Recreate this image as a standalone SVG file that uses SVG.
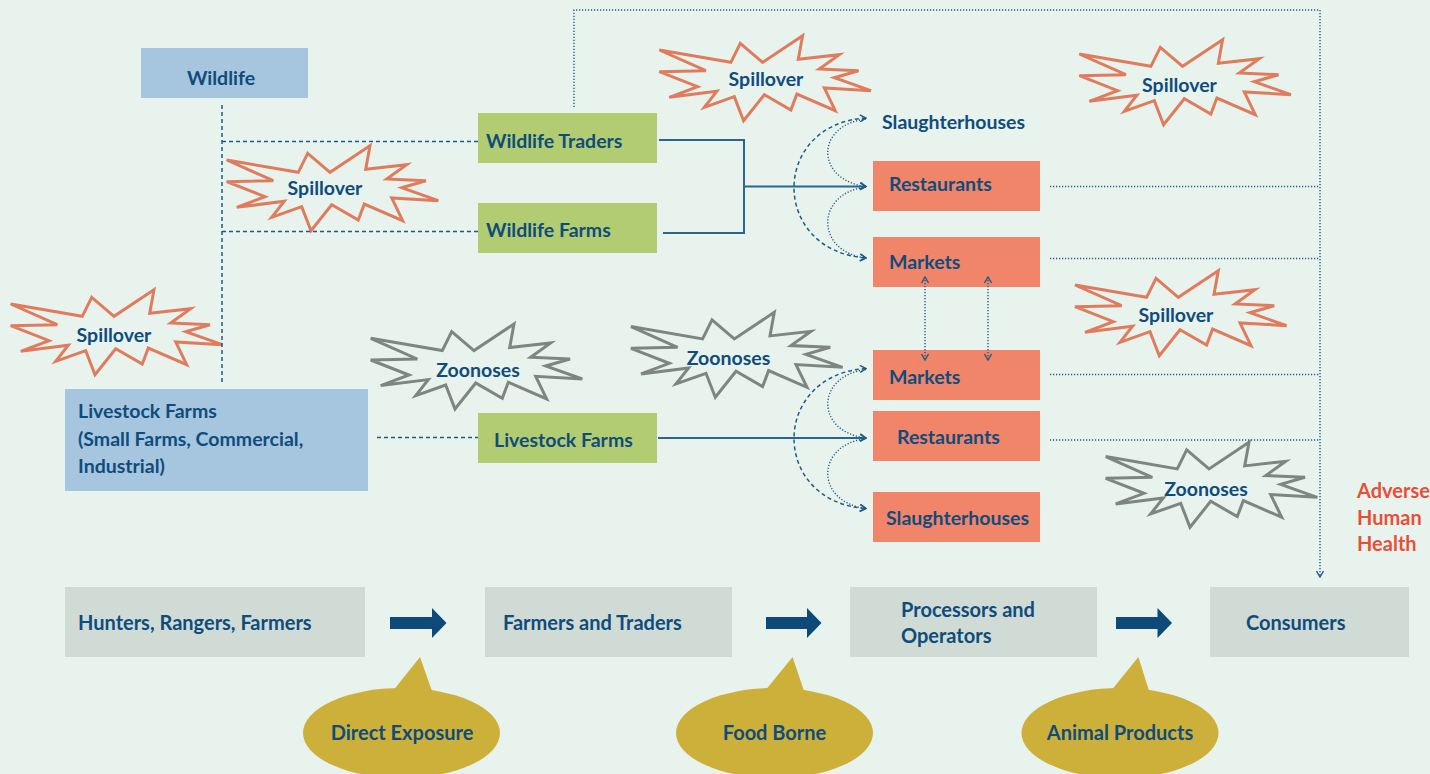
<svg xmlns="http://www.w3.org/2000/svg" xmlns:xlink="http://www.w3.org/1999/xlink" width="1430" height="774" viewBox="0 0 1430 774">
<style>
  .t{font-family:Lato,"Open Sans","Liberation Sans",sans-serif;font-weight:bold;font-size:19.5px;fill:#0f4c7c}
  .tb{font-family:Lato,"Open Sans","Liberation Sans",sans-serif;font-weight:bold;font-size:20px;fill:#0f4c7c}
  .red{font-family:Lato,"Open Sans","Liberation Sans",sans-serif;font-weight:bold;font-size:20px;fill:#e84f38}
  .mid{text-anchor:middle}
  .blue{fill:#a6c6df}
  .green{fill:#b1cc71}
  .salmon{fill:#f0856a}
  .gray{fill:#d0dbd6}
  .gold{fill:#cdb03a}
  .spill{fill:#e8f3ee;stroke:#e07c5e;stroke-width:3;stroke-linejoin:miter}
  .zoo{fill:#e8f3ee;stroke:#7f8580;stroke-width:3;stroke-linejoin:miter}
  .dash{fill:none;stroke:#1f5a87;stroke-width:1.5;stroke-dasharray:4 3}
  .dot{fill:none;stroke:#1f5a87;stroke-width:1.4;stroke-dasharray:1.2 1.8}
  .solid{fill:none;stroke:#2a6590;stroke-width:2}
  .bigarrow{fill:#0d4a7a}
</style>
<defs>
  <path id="star" d="M0,14.3 L71.6,26.6 L81,7.6 L103.3,26.6 L143.3,0 L139,23.6 L180,19 L160,33.3 L199.3,35 L175,42 L211.6,55 L165,52.3 L176,75 L137.6,58.3 L131.6,74.3 L105,59 L84.3,85 L75,61 L45,71.6 L57.6,55.6 L10,61.6 L38.3,51 L0,36 L46.6,35 Z"/>
  <marker id="ah" viewBox="0 0 8 8" refX="7" refY="4" markerWidth="8" markerHeight="8" markerUnits="userSpaceOnUse" orient="auto-start-reverse">
    <path d="M1,0.5 L7,4 L1,7.5" fill="none" stroke="#1f5a87" stroke-width="1.4"/>
  </marker>
</defs>
<rect x="0" y="0" width="1430" height="774" fill="#e8f3ee"/>

<g id="wildlife">
  <rect class="blue" x="141" y="48" width="167" height="50"/>
  <text class="t mid" x="221" y="85">Wildlife</text>
</g>
<g id="wildlife-traders">
  <rect class="green" x="478" y="113" width="179" height="50"/>
  <text class="t" x="486" y="148">Wildlife Traders</text>
</g>
<g id="wildlife-farms">
  <rect class="green" x="478" y="203" width="179" height="50"/>
  <text class="t" x="486" y="237">Wildlife Farms</text>
</g>
<g id="livestock-farms-big">
  <rect class="blue" x="65" y="389" width="303" height="102"/>
  <text class="t" x="78" y="418">Livestock Farms</text>
  <text class="t" x="78" y="445.5">(Small Farms, Commercial,</text>
  <text class="t" x="78" y="472.5">Industrial)</text>
</g>
<g id="livestock-farms">
  <rect class="green" x="478" y="413" width="179" height="50"/>
  <text class="t" x="494" y="447">Livestock Farms</text>
</g>

<g id="slaughterhouses-top">
  <text class="t" x="882" y="129">Slaughterhouses</text>
</g>
<g id="restaurants-top">
  <rect class="salmon" x="873" y="161" width="167" height="50"/>
  <text class="t" x="889" y="191">Restaurants</text>
</g>
<g id="markets-top">
  <rect class="salmon" x="873" y="237" width="167" height="50"/>
  <text class="t" x="889" y="269">Markets</text>
</g>
<g id="markets-bottom">
  <rect class="salmon" x="873" y="350" width="167" height="50"/>
  <text class="t" x="889" y="384">Markets</text>
</g>
<g id="restaurants-bottom">
  <rect class="salmon" x="873" y="411" width="167" height="50"/>
  <text class="t" x="897" y="444">Restaurants</text>
</g>
<g id="slaughterhouses-bottom">
  <rect class="salmon" x="873" y="492" width="167" height="50"/>
  <text class="t" x="886" y="525">Slaughterhouses</text>
</g>

<g id="spillover-1">
  <use xlink:href="#star" href="#star" class="spill" transform="translate(226.7,145.7)"/>
  <text class="t mid" x="325" y="195">Spillover</text>
</g>
<g id="spillover-2">
  <use xlink:href="#star" href="#star" class="spill" transform="translate(659.3,35.7)"/>
  <text class="t mid" x="766" y="86">Spillover</text>
</g>
<g id="spillover-3">
  <use xlink:href="#star" href="#star" class="spill" transform="translate(1079.3,39.7)"/>
  <text class="t mid" x="1179.5" y="92">Spillover</text>
</g>
<g id="spillover-4">
  <use xlink:href="#star" href="#star" class="spill" transform="translate(10.7,289.7)"/>
  <text class="t mid" x="114" y="341.5">Spillover</text>
</g>
<g id="spillover-5">
  <use xlink:href="#star" href="#star" class="spill" transform="translate(1075,270.7)"/>
  <text class="t mid" x="1176" y="321.5">Spillover</text>
</g>
<g id="zoonoses-1">
  <use xlink:href="#star" href="#star" class="zoo" transform="translate(370.7,324)"/>
  <text class="t mid" x="478" y="377">Zoonoses</text>
</g>
<g id="zoonoses-2">
  <use xlink:href="#star" href="#star" class="zoo" transform="translate(631,312.3)"/>
  <text class="t mid" x="728.5" y="365">Zoonoses</text>
</g>
<g id="zoonoses-3">
  <use xlink:href="#star" href="#star" class="zoo" transform="translate(1105.7,442.3)"/>
  <text class="t mid" x="1206" y="496">Zoonoses</text>
</g>

<g id="adverse-human-health">
  <text class="red" x="1357" y="498">Adverse</text>
  <text class="red" x="1357" y="524.5">Human</text>
  <text class="red" x="1357" y="551">Health</text>
</g>

<g id="hunters">
  <rect class="gray" x="65" y="587" width="300" height="70"/>
  <text class="tb" x="78" y="630">Hunters, Rangers, Farmers</text>
</g>
<g id="farmers-traders">
  <rect class="gray" x="485" y="587" width="247" height="70"/>
  <text class="tb" x="503" y="630">Farmers and Traders</text>
</g>
<g id="processors">
  <rect class="gray" x="850" y="587" width="247" height="70"/>
  <text class="tb" x="901" y="617">Processors and</text>
  <text class="tb" x="901" y="643">Operators</text>
</g>
<g id="consumers">
  <rect class="gray" x="1210" y="587" width="199" height="70"/>
  <text class="tb" x="1246" y="630">Consumers</text>
</g>

<g id="direct-exposure">
  <path class="gold" d="M392,692 L420,657 L433,694 Z"/>
  <ellipse class="gold" cx="401.5" cy="733" rx="98.5" ry="45"/>
  <text class="tb mid" x="402" y="740">Direct Exposure</text>
</g>
<g id="food-borne">
  <path class="gold" d="M764,692 L792.6,657 L805,694 Z"/>
  <ellipse class="gold" cx="774.5" cy="733" rx="98.5" ry="45"/>
  <text class="tb mid" x="774.5" y="740">Food Borne</text>
</g>
<g id="animal-products">
  <path class="gold" d="M1110,692 L1138.4,657 L1150,694 Z"/>
  <ellipse class="gold" cx="1120" cy="733" rx="98.5" ry="45"/>
  <text class="tb mid" x="1120" y="740">Animal Products</text>
</g>

<g id="connectors">
  <path class="dash" d="M222,105 V383"/>
  <path class="dash" d="M222,141.5 H478"/>
  <path class="dash" d="M222,231.5 H478"/>
  <path class="dash" d="M377,437.5 H478"/>
  <path class="dot" d="M574,107 V10 H1320 V577" marker-end="url(#ah)"/>
  <path class="dot" d="M1050,186.5 H1320"/>
  <path class="dot" d="M1050,258.5 H1320"/>
  <path class="dot" d="M1050,374.5 H1320"/>
  <path class="dot" d="M1050,440 H1320"/>
  <path class="solid" d="M659,140 H744 V233 H663"/>
  <path class="solid" d="M744,186.5 H866" marker-end="url(#ah)"/>
  <path class="solid" d="M658,438 H866" marker-end="url(#ah)"/>
  <path class="dash" d="M866,118 C770,124 770,251 866,258" marker-start="url(#ah)" marker-end="url(#ah)"/>
  <path class="dot" d="M866,119 C815,125 815,180 866,186.5" marker-end="url(#ah)"/>
  <path class="dot" d="M866,187 C815,193 815,252 866,258" marker-end="url(#ah)"/>
  <path class="dash" d="M866,368.5 C770,375 770,502 866,508.5" marker-start="url(#ah)" marker-end="url(#ah)"/>
  <path class="dot" d="M866,369.5 C815,376 815,432 866,438" marker-end="url(#ah)"/>
  <path class="dot" d="M866,438.5 C815,445 815,502 866,508.5" marker-end="url(#ah)"/>
  <path class="dot" d="M925,277 V360" marker-start="url(#ah)" marker-end="url(#ah)"/>
  <path class="dot" d="M988,277 V360" marker-start="url(#ah)" marker-end="url(#ah)"/>
  <path class="bigarrow" d="M390,617 H432 V608 L446.5,623 L432,638 V629 H390 Z"/>
  <path class="bigarrow" d="M766,617 H807 V608 L821.5,623 L807,638 V629 H766 Z"/>
  <path class="bigarrow" d="M1116,617 H1157.5 V608 L1172,623 L1157.5,638 V629 H1116 Z"/>
</g>
</svg>
